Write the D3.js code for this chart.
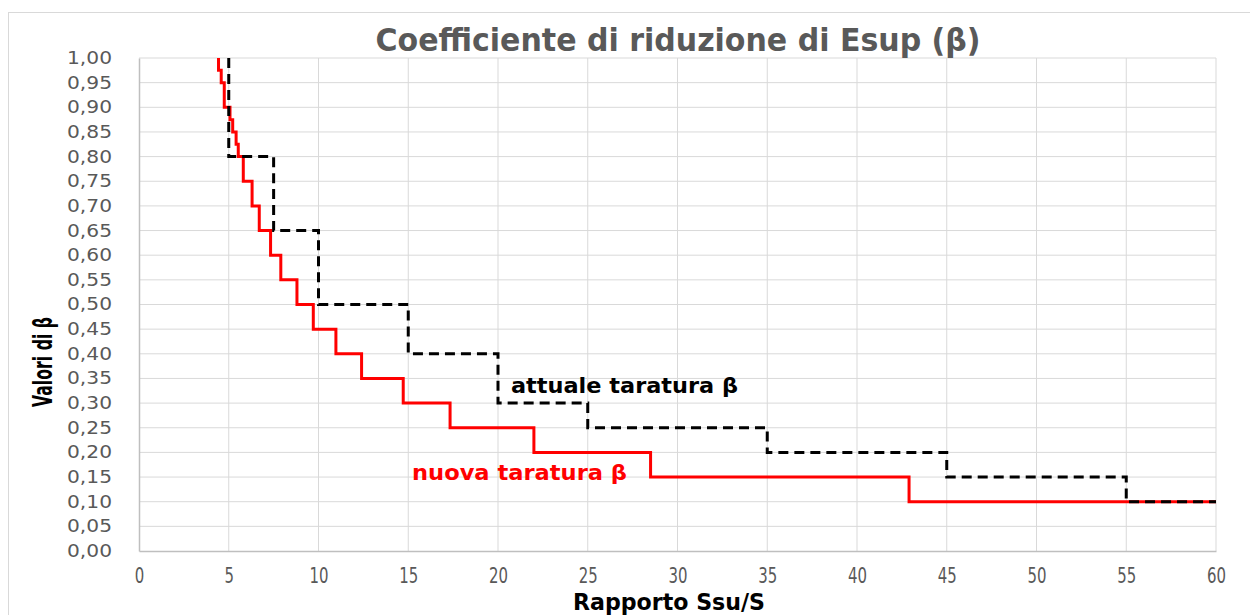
<!DOCTYPE html>
<html>
<head>
<meta charset="utf-8">
<script src="https://cdn.jsdelivr.net/npm/d3@7"></script>
<style>
  html, body { margin: 0; padding: 0; background: #fff; }
  svg { display: block; }
</style>
</head>
<body>
<div id="chart"></div>
<script>
// rapporto Ssu/S (x) e valori di beta (y), curve a gradini
const ratioTicks = [0, 5, 10, 15, 20, 25, 30, 35, 40, 45, 50, 55, 60];
const betaTicks = [0, 0.05, 0.10, 0.15, 0.20, 0.25, 0.30, 0.35, 0.40, 0.45, 0.50,
  0.55, 0.60, 0.65, 0.70, 0.75, 0.80, 0.85, 0.90, 0.95, 1.00];

const nuovaX = [4.43, 4.43, 4.58, 4.75, 5.07, 5.22, 5.41, 5.53, 5.81, 6.3, 6.7, 7.33,
  7.9, 8.8, 9.71, 10.97, 12.4, 14.72, 17.33, 22.0, 28.5, 42.9, 60];
const nuovaBeta = [1.0, 0.975, 0.95, 0.90, 0.875, 0.85, 0.825, 0.80, 0.75, 0.70, 0.65,
  0.60, 0.55, 0.50, 0.45, 0.40, 0.35, 0.30, 0.25, 0.20, 0.15, 0.10, 0.10];

const attualeX = [5, 5, 7.5, 10, 15, 20, 25, 35, 45, 55, 60];
const attualeBeta = [1.0, 0.80, 0.65, 0.50, 0.40, 0.30, 0.25, 0.20, 0.15, 0.10, 0.10];

const W = 1250, H = 615;
const margin = { top: 58, right: 34, bottom: 64, left: 139 };
const width = W - margin.left - margin.right;
const height = H - margin.top - margin.bottom;

const svg = d3.select("#chart").append("svg")
  .attr("width", W)
  .attr("height", H);

// bordo esterno del grafico
svg.append("rect")
  .attr("x", 8.5).attr("y", 12.5)
  .attr("width", W + 20).attr("height", H + 20)
  .attr("fill", "none")
  .attr("stroke", "#d9d9d9");

const g = svg.append("g")
  .attr("transform", `translate(${margin.left},${margin.top})`);

const x = d3.scaleLinear().domain([0, 60]).range([0, width]);
const y = d3.scaleLinear().domain([0, 1]).range([height, 0]);

// griglia
g.append("g")
  .attr("class", "grid")
  .selectAll("line.v")
  .data(ratioTicks.slice(1))
  .join("line")
  .attr("x1", d => x(d)).attr("x2", d => x(d))
  .attr("y1", 0).attr("y2", height)
  .attr("stroke", "#d9d9d9");

g.append("g")
  .attr("class", "grid")
  .selectAll("line.h")
  .data(betaTicks.slice(1))
  .join("line")
  .attr("x1", 0).attr("x2", width)
  .attr("y1", d => y(d)).attr("y2", d => y(d))
  .attr("stroke", "#d9d9d9");

// assi
const fmt = d => d3.format(".2f")(d).replace(".", ",");

const yAxis = g.append("g")
  .call(d3.axisLeft(y).tickValues(betaTicks).tickSize(0).tickPadding(27).tickFormat(fmt));
yAxis.select(".domain").attr("stroke", "#bfbfbf").attr("stroke-width", 1.5);
yAxis.selectAll("text")
  .attr("fill", "#595959")
  .style("font-family", "DejaVu Sans, sans-serif")
  .style("font-size", "17px")
  .attr("textLength", 45)
  .attr("lengthAdjust", "spacingAndGlyphs");

const xAxis = g.append("g")
  .attr("transform", `translate(0,${height})`)
  .call(d3.axisBottom(x).tickValues(ratioTicks).tickSize(0).tickPadding(17));
xAxis.select(".domain").attr("stroke", "#bfbfbf").attr("stroke-width", 1.5);
xAxis.selectAll("text")
  .attr("fill", "#595959")
  .style("font-family", "Liberation Sans Narrow, DejaVu Sans Condensed, sans-serif")
  .style("font-size", "21px")
  .attr("textLength", d => String(d).length * 9.5)
  .attr("lengthAdjust", "spacingAndGlyphs");

// linee a gradini
const stepLine = d3.line()
  .x(d => x(d[0]))
  .y(d => y(d[1]))
  .curve(d3.curveStepAfter);

g.append("path")
  .datum(d3.zip(nuovaX, nuovaBeta))
  .attr("fill", "none")
  .attr("stroke", "#ff0000")
  .attr("stroke-width", 3)
  .attr("d", stepLine);

g.append("path")
  .datum(d3.zip(attualeX, attualeBeta))
  .attr("fill", "none")
  .attr("stroke", "#000")
  .attr("stroke-width", 3)
  .attr("stroke-dasharray", "10,6")
  .attr("d", stepLine);

// etichette delle curve
g.append("text")
  .attr("x", 511 - margin.left).attr("y", 393 - margin.top)
  .attr("fill", "#000")
  .style("font-family", "DejaVu Sans, sans-serif")
  .style("font-weight", "bold")
  .style("font-size", "21px")
  .attr("textLength", 227)
  .attr("lengthAdjust", "spacingAndGlyphs")
  .text("attuale taratura β");

g.append("text")
  .attr("x", 412 - margin.left).attr("y", 480 - margin.top)
  .attr("fill", "#ff0000")
  .style("font-family", "DejaVu Sans, sans-serif")
  .style("font-weight", "bold")
  .style("font-size", "21px")
  .attr("textLength", 215)
  .attr("lengthAdjust", "spacingAndGlyphs")
  .text("nuova taratura β");

// titoli
svg.append("text")
  .attr("x", 678).attr("y", 51)
  .attr("text-anchor", "middle")
  .attr("fill", "#595959")
  .style("font-family", "Liberation Sans Narrow, DejaVu Sans Condensed, sans-serif")
  .style("font-weight", "bold")
  .style("font-size", "32px")
  .attr("textLength", 605)
  .attr("lengthAdjust", "spacingAndGlyphs")
  .text("Coefficiente di riduzione di Esup (β)");

svg.append("text")
  .attr("transform", "translate(52,362) rotate(-90)")
  .attr("text-anchor", "middle")
  .attr("fill", "#000")
  .style("font-family", "Liberation Sans Narrow, DejaVu Sans Condensed, sans-serif")
  .style("font-weight", "bold")
  .style("font-size", "26px")
  .attr("textLength", 90)
  .attr("lengthAdjust", "spacingAndGlyphs")
  .text("Valori di β");

svg.append("text")
  .attr("x", 669).attr("y", 610)
  .attr("text-anchor", "middle")
  .attr("fill", "#000")
  .style("font-family", "Liberation Sans Narrow, DejaVu Sans Condensed, sans-serif")
  .style("font-weight", "bold")
  .style("font-size", "23px")
  .attr("textLength", 192)
  .attr("lengthAdjust", "spacingAndGlyphs")
  .text("Rapporto Ssu/S");
</script>
</body>
</html>
